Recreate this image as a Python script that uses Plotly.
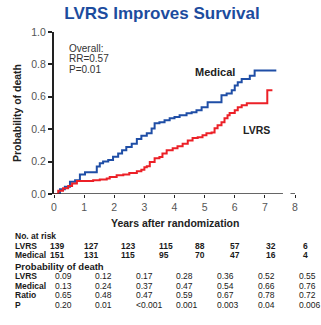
import plotly.graph_objects as go

# Kaplan-Meier style cumulative probability of death (step curves)
medical_years = [0, 0.2, 0.36, 0.53, 0.7, 0.86, 1.03, 1.42, 1.52, 1.63, 1.8, 1.96, 2.13, 2.26,
                 2.4, 2.58, 2.75, 2.9, 3.08, 3.24, 3.34, 3.5, 3.67, 3.84, 4.0, 4.17, 4.4,
                 4.57, 4.73, 4.9, 5.1, 5.56, 5.73, 5.9, 6.0, 6.1, 6.23, 6.5, 6.66, 7.38]
medical_prob = [0, 0.03, 0.045, 0.075, 0.085, 0.12, 0.135, 0.17, 0.19, 0.2, 0.21, 0.23, 0.25, 0.27,
                0.29, 0.31, 0.34, 0.36, 0.375, 0.405, 0.437, 0.443, 0.455, 0.468, 0.475, 0.486, 0.498,
                0.505, 0.517, 0.535, 0.566, 0.61, 0.62, 0.64, 0.67, 0.69, 0.71, 0.73, 0.763, 0.763]

lvrs_years = [0, 0.14, 0.3, 0.47, 0.6, 0.76, 1.3, 1.52, 1.75, 1.85, 2.08, 2.3, 2.5, 2.75, 2.9,
              3.0, 3.08, 3.18, 3.34, 3.5, 3.6, 3.74, 3.94, 4.1, 4.27, 4.44, 4.6, 4.77, 4.93,
              5.06, 5.23, 5.33, 5.43, 5.56, 5.66, 5.76, 5.83, 6.0, 6.1, 6.23, 6.4, 7.08, 7.25]
lvrs_prob = [0, 0.02, 0.035, 0.05, 0.065, 0.08, 0.085, 0.09, 0.095, 0.105, 0.115, 0.12, 0.13, 0.14, 0.15,
             0.165, 0.172, 0.197, 0.22, 0.228, 0.25, 0.27, 0.283, 0.295, 0.31, 0.33, 0.345, 0.35, 0.363,
             0.375, 0.38, 0.406, 0.425, 0.443, 0.468, 0.486, 0.5, 0.517, 0.535, 0.548, 0.56, 0.64, 0.64]

# Table below the plot
at_risk_lvrs = ["139", "127", "123", "115", "88", "57", "32", "6"]
at_risk_medical = ["151", "131", "115", "95", "70", "47", "16", "4"]
prob_lvrs = ["0.09", "0.12", "0.17", "0.28", "0.36", "0.52", "0.55"]
prob_medical = ["0.13", "0.24", "0.37", "0.47", "0.54", "0.66", "0.76"]
prob_ratio = ["0.65", "0.48", "0.47", "0.59", "0.67", "0.78", "0.72"]
prob_p = ["0.20", "0.01", "<0.001", "0.001", "0.003", "0.04", "0.006"]

W, H = 321, 325
ML, MR, MT, MB = 54, 26, 32, 131
PW, PH = W - ML - MR, H - MT - MB

BLUE = "#1f4ea6"
RED = "#ec2027"
FONT = "Liberation Sans, Arial, sans-serif"


def px(x):
    return (x - ML) / PW


def py(y):
    return (H - MB - y) / PH


fig = go.Figure()
fig.add_trace(go.Scatter(x=medical_years, y=medical_prob, mode="lines", line_shape="hv",
                         line=dict(color=BLUE, width=2), cliponaxis=False, showlegend=False))
fig.add_trace(go.Scatter(x=lvrs_years, y=lvrs_prob, mode="lines", line_shape="hv",
                         line=dict(color=RED, width=2), cliponaxis=False, showlegend=False))

ann = []


def text(x, y, s, size=8.5, color="#1a1a1a", anchor="left", bold=False, angle=0):
    ann.append(dict(x=px(x), y=py(y), xref="paper", yref="paper", text=f"<b>{s}</b>" if bold else s,
                    showarrow=False, xanchor=anchor, yanchor="middle", textangle=angle,
                    font=dict(family=FONT, size=size, color=color)))


# In-plot labels
text(67, 48, "Overall:", size=10, color="#333")
text(67, 58.5, "RR=0.57", size=10, color="#333")
text(67, 69, "P=0.01", size=10, color="#333")
text(215, 72, "Medical", size=11, color="#222", anchor="center", bold=True)
text(256, 130, "LVRS", size=10.5, color="#222", anchor="center", bold=True)

# Number at risk
risk_cols = [48, 82, 119, 157, 193, 228, 264, 301]
text(13, 236, "No. at risk", bold=True)
text(13, 245.5, "LVRS", bold=True)
text(13, 255, "Medical", bold=True)
for cx, a, b in zip(risk_cols, at_risk_lvrs, at_risk_medical):
    text(cx, 245.5, a, bold=True)
    text(cx, 255, b, bold=True)

# Probability of death
prob_cols = [53, 93, 134, 174, 215, 256, 297]
text(13, 266.5, "Probability of death", size=9.5, bold=True)
rows = [("LVRS", prob_lvrs, 276), ("Medical", prob_medical, 285.5),
        ("Ratio", prob_ratio, 295), ("P", prob_p, 304.5)]
for label, vals, ry in rows:
    text(13, ry, label, bold=True)
    for cx, v in zip(prob_cols, vals):
        text(cx, ry, v)

# Axis titles
text(17, (MT + H - MB) / 2, "Probability of death", size=10.5, color="#222",
     anchor="center", bold=True, angle=-90)
text(175, 222.5, "Years after randomization", size=10.5, color="#222", anchor="center", bold=True)

fig.update_layout(
    width=W, height=H,
    margin=dict(l=ML, r=MR, t=MT, b=MB),
    paper_bgcolor="white", plot_bgcolor="white",
    title=dict(text="<b>LVRS Improves Survival</b>", x=(162 / W), xanchor="center",
               y=1 - 13 / H, yanchor="middle", font=dict(family=FONT, size=17, color="#1c4c9e")),
    annotations=ann,
    xaxis=dict(range=[0, 8], tickvals=list(range(9)), ticks="outside", ticklen=3,
               tickcolor="#222", tickwidth=1.2, showgrid=False, zeroline=False, showline=False,
               tickfont=dict(family=FONT, size=10.5, color="#555")),
    yaxis=dict(range=[0, 1], tickvals=[0, 0.2, 0.4, 0.6, 0.8, 1.0], tickformat=".1f",
               ticks="outside", ticklen=4, tickcolor="#222", tickwidth=1.5,
               showgrid=False, zeroline=False, showline=True, linecolor="#222", linewidth=2,
               tickfont=dict(family=FONT, size=10.5, color="#555")),
    shapes=[
        dict(type="line", xref="x", yref="y", x0=0, x1=7.6, y0=0, y1=0,
             line=dict(color="#333", width=1.5)),
        dict(type="line", xref="x", yref="y", x0=7.85, x1=8, y0=0, y1=0,
             line=dict(color="#333", width=1.5)),
    ],
)

fig.write_html("out.html")
